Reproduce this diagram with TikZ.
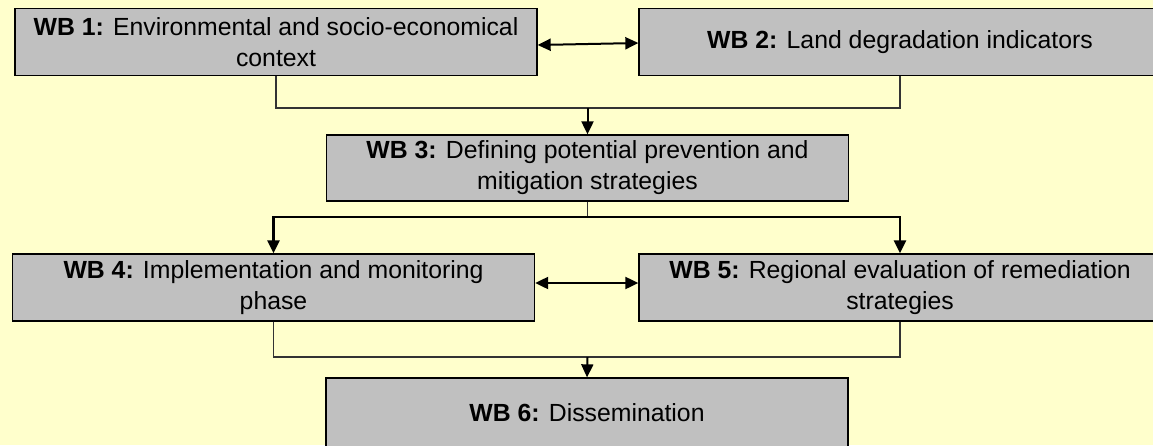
\documentclass[tikz,border=0pt]{standalone}
\usepackage{fontspec}
\setmainfont{Liberation Sans}
\usetikzlibrary{arrows.meta}
\definecolor{bgyellow}{HTML}{FFFFCC}
\definecolor{boxgray}{HTML}{C0C0C0}
\definecolor{linegray}{HTML}{333333}
\tikzset{
  wb/.style={draw=black,line width=1.3pt,fill=boxgray,minimum width=522pt,minimum height=67pt,
    align=center,inner sep=0pt,font=\fontsize{24.8}{31}\selectfont},
  link/.style={draw=linegray,line width=1.2pt},
  boldlink/.style={draw=black,line width=2.5pt},
  arrowlink/.style={draw=black,line width=2pt},
  tip/.style={-{Triangle[length=13pt,width=12pt]}},
  twotips/.style={{Triangle[length=13pt,width=12pt]}-{Triangle[length=13pt,width=12pt]}},
}
\begin{document}
\begin{tikzpicture}[x=1pt,y=-1pt]
\useasboundingbox (0,0) rectangle (1153,445);
\fill[bgyellow] (0,0) rectangle (1153,445);
\clip (0,0) rectangle (1153,445);
\node[wb] (wb1) at (276,42) {\textbf{WB 1:} Environmental and socio-economical\\context};
\node[wb] (wb2) at (900,42) {\textbf{WB 2:} Land degradation indicators};
\node[wb,minimum height=66pt] (wb3) at (587.5,168) {\textbf{WB 3:} Defining potential prevention and\\mitigation strategies};
\node[wb] (wb4) at (273.5,287.5) {\textbf{WB 4:} Implementation and monitoring\\phase};
\node[wb] (wb5) at (900,287.5) {\textbf{WB 5:} Regional evaluation of remediation\\strategies};
\node[wb,minimum height=70pt] (wb6) at (587,413) {\textbf{WB 6:} Dissemination};
\coordinate (join1) at (587.5,108);
\coordinate (split) at (587.5,217);
\coordinate (join2) at (587.5,357);
\draw[arrowlink,twotips] ([yshift=-3pt]wb1.east) -- ([yshift=-1pt]wb2.west);
\draw[link] (wb1.south) |- (join1) -| (wb2.south);
\draw[arrowlink,tip] (join1) -- (wb3.north);
\draw[link] (wb3.south) -- (split);
\draw[boldlink,tip] (split) -| (wb4.north);
\draw[boldlink,tip] (split) -| (wb5.north);
\draw[arrowlink,twotips] ([yshift=4.5pt]wb4.east) -- ([yshift=4.5pt]wb5.west);
\draw[link] (wb4.south) |- (join2) -| (wb5.south);
\draw[arrowlink,tip] (join2) -- (wb6.north);
\end{tikzpicture}
\end{document}
